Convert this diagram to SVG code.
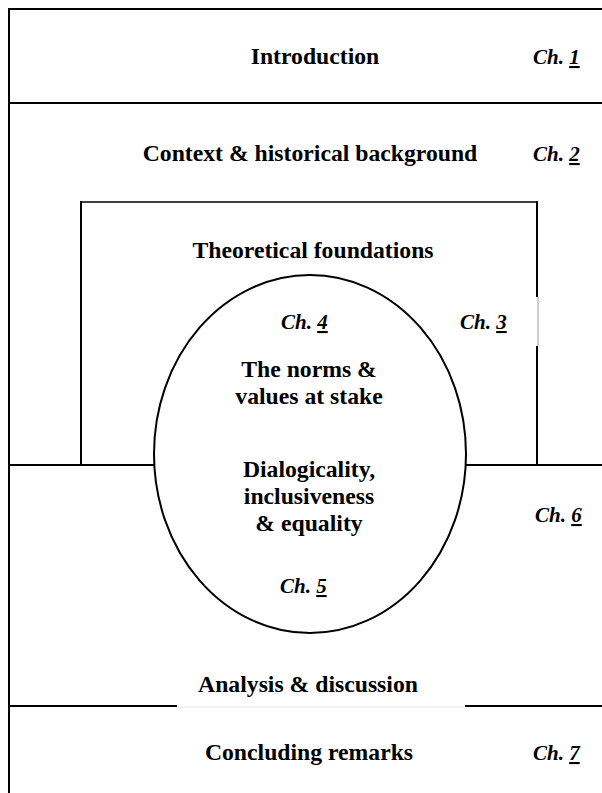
<svg xmlns="http://www.w3.org/2000/svg" width="602" height="793" viewBox="0 0 602 793">
<style>
.t{font-weight:bold;font-size:23.7px;fill:#000;text-anchor:middle}
.ch{font-weight:bold;font-style:italic;font-size:21px;fill:#000}
.u{text-decoration:underline}
.ln{stroke:#000;stroke-width:2;fill:none}
</style>
<rect width="602" height="793" fill="#fff"/>
<g id="connectors">
<line class="ln" x1="9" y1="8" x2="9" y2="793"/>
<line class="ln" x1="8" y1="9" x2="602" y2="9"/>
<line class="ln" x1="9" y1="103" x2="602" y2="103"/>
<line class="ln" x1="9" y1="465" x2="154" y2="465"/>
<line class="ln" x1="466" y1="465" x2="602" y2="465"/>
<line class="ln" x1="9" y1="706" x2="177" y2="706"/>
<line class="ln" x1="465" y1="706" x2="602" y2="706"/>
<line x1="177" y1="707" x2="465" y2="707" stroke="#e6e6e6" stroke-width="1"/>
</g>
<g font-family="Liberation Serif, Times New Roman, serif">
<g id="intro">
<text class="t" x="315" y="64">Introduction</text>
<text class="ch" x="533" y="64">Ch. <tspan class="u">1</tspan></text>
</g>
<g id="context">
<text class="t" x="310" y="161">Context &amp; historical background</text>
<text class="ch" x="533" y="161">Ch. <tspan class="u">2</tspan></text>
</g>
<g id="theory">
<line class="ln" x1="81" y1="201" x2="81" y2="465"/>
<line x1="80" y1="202" x2="538" y2="202" stroke="#000" stroke-width="1.5"/>
<line class="ln" x1="537" y1="201" x2="537" y2="297"/>
<line x1="538" y1="297" x2="538" y2="346" stroke="#999" stroke-width="1"/>
<line class="ln" x1="537" y1="346" x2="537" y2="465"/>
<text class="t" x="313" y="258">Theoretical foundations</text>
<text class="ch" x="460" y="329">Ch. <tspan class="u">3</tspan></text>
</g>
<g id="norms">
<ellipse class="ln" cx="310" cy="454" rx="156" ry="179" fill="#fff"/>
<text class="ch" x="281" y="329">Ch. <tspan class="u">4</tspan></text>
<text class="t" x="309" y="377">The norms &amp;</text>
<text class="t" x="309" y="404">values at stake</text>
<text class="t" x="309" y="477">Dialogicality,</text>
<text class="t" x="309" y="504">inclusiveness</text>
<text class="t" x="309" y="531">&amp; equality</text>
<text class="ch" x="280" y="593">Ch. <tspan class="u">5</tspan></text>
</g>
<g id="analysis">
<text class="t" x="308" y="692">Analysis &amp; discussion</text>
<text class="ch" x="535" y="522">Ch. <tspan class="u">6</tspan></text>
</g>
<g id="conclusion">
<text class="t" x="309" y="760">Concluding remarks</text>
<text class="ch" x="533" y="760">Ch. <tspan class="u">7</tspan></text>
</g>
</g>
</svg>
